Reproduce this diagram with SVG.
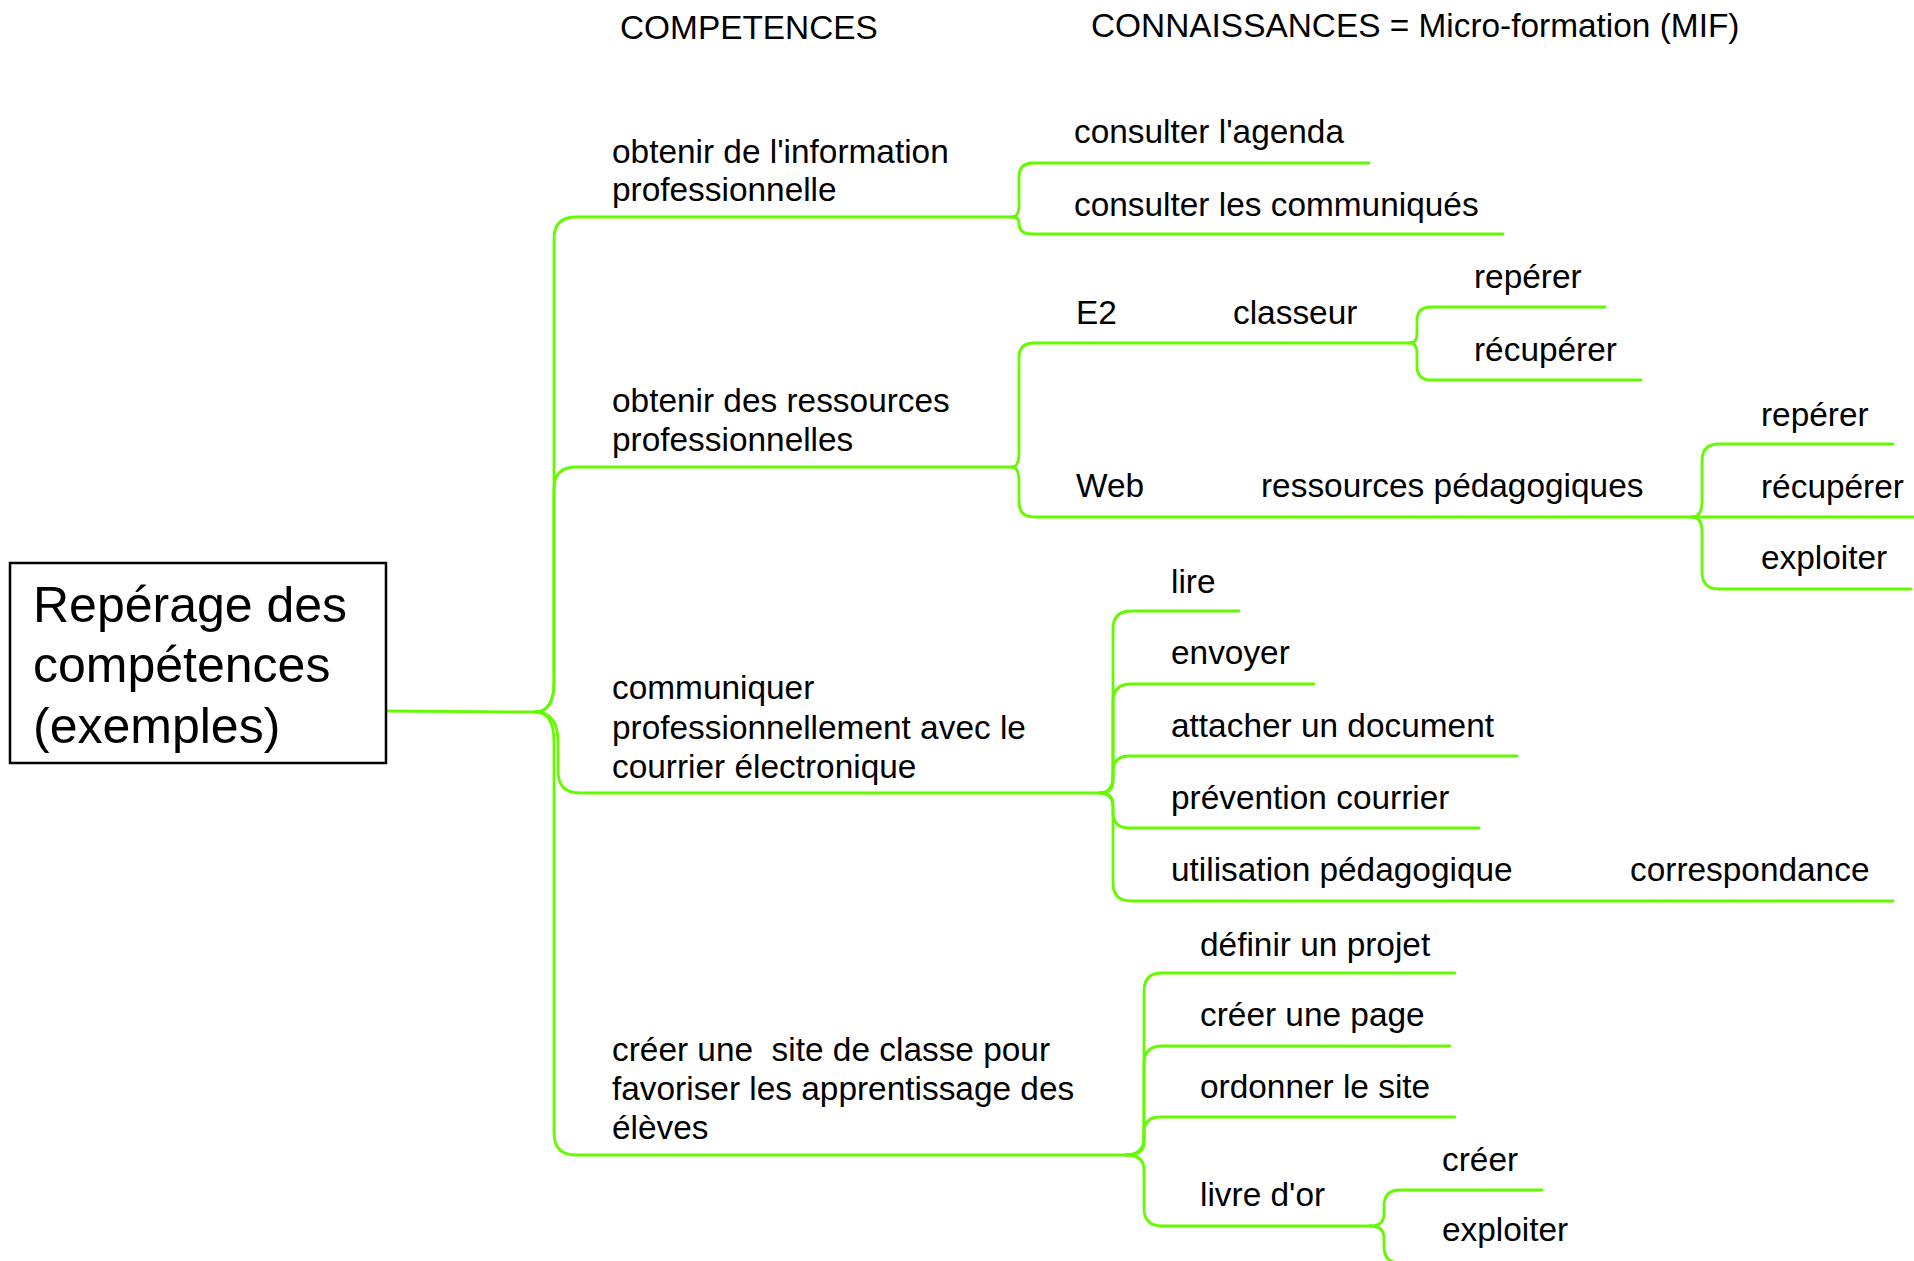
<svg xmlns="http://www.w3.org/2000/svg" width="1914" height="1261" viewBox="0 0 1914 1261">
<style>
text{font-family:"Liberation Sans",Arial,Helvetica,sans-serif;fill:#000;font-size:33.4px}
.root{font-size:50px}
.c{fill:none;stroke:#64fa00;stroke-width:2.8;stroke-linecap:round;stroke-linejoin:round}
.pre{white-space:pre}
</style>
<rect width="1914" height="1261" fill="#fff"/>
<g id="headers">
<text x="620" y="39">COMPETENCES</text>
<text x="1091" y="37">CONNAISSANCES = Micro-formation (MIF)</text>
</g>
<g id="connectors">
<path class="c" d="M386,711 L535,712"/>
<path class="c" d="M535,712 Q554,712 554,682 L554,239 Q554,217 576,217 L1012,217"/>
<path class="c" d="M535,712 Q554,712 554,682 L554,489 Q554,467 576,467 L1012,467"/>
<path class="c" d="M535,712 Q558,712 558,742 L558,771 Q558,793 580,793 L1100,793"/>
<path class="c" d="M535,712 Q554,712 554,742 L554,1133 Q554,1155 576,1155 L1126,1155"/>
<path class="c" d="M1012,217 Q1019,217 1019,205 L1019,177 Q1019,163 1033,163 L1369,163"/>
<path class="c" d="M1012,217 Q1019,217 1019,223 Q1019,234 1031,234 L1503,234"/>
<path class="c" d="M1012,467 Q1019,467 1019,452 L1019,358 Q1019,343 1034,343 L1410,343"/>
<path class="c" d="M1012,467 Q1019,467 1019,482 L1019,502 Q1019,517 1034,517 L1692,517"/>
<path class="c" d="M1410,343 Q1417,343 1417,333 L1417,321 Q1417,307 1431,307 L1605,307"/>
<path class="c" d="M1410,343 Q1417,343 1417,353 L1417,366 Q1417,380 1431,380 L1641,380"/>
<path class="c" d="M1692,517 Q1702,517 1702,502 L1702,461 Q1702,444 1719,444 L1893,444"/>
<path class="c" d="M1692,517 L1914,517"/>
<path class="c" d="M1692,517 Q1702,517 1702,532 L1702,572 Q1702,589 1719,589 L1911,589"/>
<path class="c" d="M1100,793 Q1113,793 1113,775 L1113,629 Q1113,611 1131,611 L1239,611"/>
<path class="c" d="M1100,793 Q1113,793 1113,778 L1113,702 Q1113,684 1131,684 L1314,684"/>
<path class="c" d="M1100,793 Q1113,793 1113,781 L1113,772 Q1113,756 1129,756 L1517,756"/>
<path class="c" d="M1100,793 Q1113,793 1113,805 L1113,812 Q1113,828 1129,828 L1479,828"/>
<path class="c" d="M1100,793 Q1113,793 1113,808 L1113,883 Q1113,901 1131,901 L1893,901"/>
<path class="c" d="M1126,1155 Q1144,1155 1144,1137 L1144,991 Q1144,973 1162,973 L1455,973"/>
<path class="c" d="M1126,1155 Q1144,1155 1144,1140 L1144,1064 Q1144,1046 1162,1046 L1450,1046"/>
<path class="c" d="M1126,1155 Q1144,1155 1144,1143 L1144,1133 Q1144,1117 1160,1117 L1455,1117"/>
<path class="c" d="M1126,1155 Q1144,1155 1144,1170 L1144,1208 Q1144,1226 1162,1226 L1370,1226"/>
<path class="c" d="M1370,1226 Q1384,1226 1384,1214 L1384,1206 Q1384,1190 1400,1190 L1542,1190"/>
<path class="c" d="M1370,1226 Q1384,1226 1384,1238 L1384,1247 Q1384,1263 1400,1263 L1600,1263"/>
</g>
<g id="root">
<rect x="10" y="563" width="376" height="200" fill="#fff" stroke="#000" stroke-width="2.5"/>
<text class="root" x="33" y="622">Repérage des</text>
<text class="root" x="33" y="682">compétences</text>
<text class="root" x="33" y="743">(exemples)</text>
</g>
<g id="n-info">
<text x="612" y="163">obtenir de l'information</text>
<text x="612" y="201">professionnelle</text>
</g>
<g id="n-ressources">
<text x="612" y="412">obtenir des ressources</text>
<text x="612" y="451">professionnelles</text>
</g>
<g id="n-communiquer">
<text x="612" y="699">communiquer</text>
<text x="612" y="739">professionnellement avec le</text>
<text x="612" y="778">courrier électronique</text>
</g>
<g id="n-site">
<text x="612" y="1061" class="pre">créer une  site de classe pour</text>
<text x="612" y="1100">favoriser les apprentissage des</text>
<text x="612" y="1139">élèves</text>
</g>
<g id="n-agenda"><text x="1074" y="143">consulter l'agenda</text></g>
<g id="n-communiques"><text x="1074" y="216">consulter les communiqués</text></g>
<g id="n-e2"><text x="1076" y="324">E2</text><text x="1233" y="324">classeur</text></g>
<g id="n-e2-reperer"><text x="1474" y="288">repérer</text></g>
<g id="n-e2-recuperer"><text x="1474" y="361">récupérer</text></g>
<g id="n-web"><text x="1076" y="497">Web</text><text x="1261" y="497">ressources pédagogiques</text></g>
<g id="n-web-reperer"><text x="1761" y="426">repérer</text></g>
<g id="n-web-recuperer"><text x="1761" y="498">récupérer</text></g>
<g id="n-web-exploiter"><text x="1761" y="569">exploiter</text></g>
<g id="n-lire"><text x="1171" y="593">lire</text></g>
<g id="n-envoyer"><text x="1171" y="664">envoyer</text></g>
<g id="n-attacher"><text x="1171" y="737">attacher un document</text></g>
<g id="n-prevention"><text x="1171" y="809">prévention courrier</text></g>
<g id="n-utilisation"><text x="1171" y="881">utilisation pédagogique</text><text x="1630" y="881">correspondance</text></g>
<g id="n-definir"><text x="1200" y="956">définir un projet</text></g>
<g id="n-page"><text x="1200" y="1026">créer une page</text></g>
<g id="n-ordonner"><text x="1200" y="1098">ordonner le site</text></g>
<g id="n-livre"><text x="1200" y="1206">livre d'or</text></g>
<g id="n-livre-creer"><text x="1442" y="1171">créer</text></g>
<g id="n-livre-exploiter"><text x="1442" y="1241">exploiter</text></g>
</svg>
